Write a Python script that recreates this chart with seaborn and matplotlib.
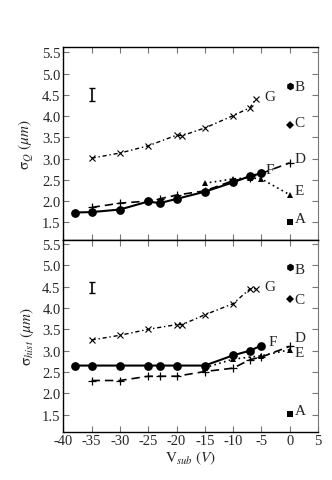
import numpy as np
import pandas as pd
import seaborn as sns
import matplotlib.pyplot as plt

# top panel: sigma_Q
xF_q = [-38, -35, -30, -25, -23, -20, -15, -10, -7, -5]
yF_q = [1.73, 1.74, 1.80, 1.99, 1.95, 2.05, 2.22, 2.44, 2.59, 2.65]
xD_q = [-35, -30, -25, -23, -20, -15, -10, -7, -5, 0]
yD_q = [1.85, 1.95, 2.00, 2.05, 2.14, 2.24, 2.48, 2.55, 2.65, 2.90]
xE_q = [-15, -10, -7, -5, 0]
yE_q = [2.42, 2.52, 2.55, 2.52, 2.15]
xG_q = [-35, -30, -25, -20, -19, -15, -10, -7, -6]
yG_q = [3.01, 3.13, 3.30, 3.55, 3.54, 3.72, 4.01, 4.20, 4.40]
single_q = {'A': 1.51, 'B': 4.70, 'C': 3.79}
err_q = (-35, 4.51, 0.15)

# bottom panel: sigma_hist
xF_h = [-38, -35, -30, -25, -23, -20, -15, -10, -7, -5]
yF_h = [2.65, 2.65, 2.65, 2.65, 2.65, 2.65, 2.65, 2.89, 3.00, 3.12]
xD_h = [-35, -30, -25, -23, -20, -15, -10, -7, -5, 0]
yD_h = [2.30, 2.30, 2.40, 2.40, 2.40, 2.51, 2.59, 2.79, 2.85, 3.10]
xE_h = [-15, -10, -5, 0]
yE_h = [2.60, 2.80, 2.88, 3.02]
xG_h = [-35, -30, -25, -20, -19, -15, -10, -7, -6]
yG_h = [3.25, 3.36, 3.50, 3.61, 3.61, 3.84, 4.10, 4.45, 4.45]
single_h = {'A': 1.52, 'B': 4.95, 'C': 4.21}
err_h = (-35, 4.48, 0.12)

x_ticks = list(range(-40, 6, 5))
y_ticks = [1.5, 2.0, 2.5, 3.0, 3.5, 4.0, 4.5, 5.0, 5.5]

sns.set_style("ticks")
plt.rcParams['font.family'] = ['Liberation Serif', 'DejaVu Serif']
plt.rcParams['mathtext.fontset'] = 'stix'
plt.rcParams['font.size'] = 10
plt.rcParams['axes.unicode_minus'] = False
SERIF = 'Liberation Serif'

fig = plt.figure(figsize=(3.32, 4.81), dpi=100)
ax1 = fig.add_axes([0.1907, 0.4996, 0.7671, 0.4000])
ax2 = fig.add_axes([0.1907, 0.1004, 0.7671, 0.3992])


def draw(ax, xF, yF, xD, yD, xE, yE, xG, yG, single, err, labels):
    sns.lineplot(x=xG, y=yG, ax=ax, color='k', lw=1.0, linestyle=(0, (3, 2, 1, 2)),
                 marker='x', markersize=5, markeredgewidth=0.8, markeredgecolor='k',
                 errorbar=None)
    sns.lineplot(x=xD, y=yD, ax=ax, color='k', lw=1.2, linestyle=(0, (5, 3)),
                 marker='+', markersize=6, markeredgewidth=0.9, markeredgecolor='k',
                 errorbar=None)
    sns.lineplot(x=xE, y=yE, ax=ax, color='k', lw=1.2, linestyle=(0, (1, 2)),
                 marker='^', markersize=5, markeredgewidth=0, errorbar=None)
    sns.lineplot(x=xF, y=yF, ax=ax, color='k', lw=1.5, linestyle='-',
                 marker='o', markersize=6.3, markeredgewidth=0, errorbar=None)
    ax.plot([0], [single['A']], marker='s', color='k', ms=4, mew=0)
    ax.plot([0], [single['B']], marker='h', color='k', ms=5.5, mew=0)
    ax.plot([0], [single['C']], marker='D', color='k', ms=4, mew=0)
    ex, ey, eh = err
    ax.errorbar([ex], [ey], yerr=[eh], color='k', lw=1.2, capsize=2.5, capthick=1)
    for name, (tx, ty) in labels.items():
        ax.text(tx, ty, name, fontsize=11, va='center', ha='left', family=SERIF)
    ax.set_xlim(-40, 5)
    ax.set_xticks(x_ticks)
    ax.set_xticklabels([str(v) for v in x_ticks], family=SERIF)
    ax.set_yticks(y_ticks)
    ax.set_yticklabels([f'{v:.1f}' for v in y_ticks], family=SERIF)
    ax.tick_params(direction='in', top=True, right=True, length=4, width=0.8,
                   color='#777777', labelsize=10.5, pad=2)
    for s in ['left', 'bottom', 'top']:
        ax.spines[s].set_linewidth(1.0)
        ax.spines[s].set_color('k')
    ax.spines['right'].set_color('#777777')


draw(ax1, xF_q, yF_q, xD_q, yD_q, xE_q, yE_q, xG_q, yG_q, single_q, err_q,
     {'B': (0.9, 4.70), 'C': (0.9, 3.85), 'G': (-4.5, 4.45), 'D': (0.9, 3.0),
      'F': (-4.3, 2.75), 'E': (0.9, 2.25), 'A': (0.9, 1.58)})
draw(ax2, xF_h, yF_h, xD_h, yD_h, xE_h, yE_h, xG_h, yG_h, single_h, err_h,
     {'B': (0.9, 4.9), 'C': (0.9, 4.21), 'G': (-4.5, 4.5), 'D': (0.9, 3.3),
      'F': (-3.8, 3.22), 'E': (0.9, 2.95), 'A': (0.9, 1.6)})

ax1.set_ylim(1.09, 5.62)
ax2.set_ylim(1.1, 5.6)
ax1.tick_params(labelbottom=False)
ax1.set_ylabel(r'$\mathrm{\sigma}_{Q}\ (\mu m)$', fontsize=11, labelpad=4)
ax2.set_ylabel(r'$\mathrm{\sigma}_{hist}\ (\mu m)$', fontsize=11, labelpad=4)
ax2.set_xlabel(r'$\mathrm{V}_{sub}\ (V)$', fontsize=11, labelpad=1)

fig.savefig('out.png', dpi=100)
